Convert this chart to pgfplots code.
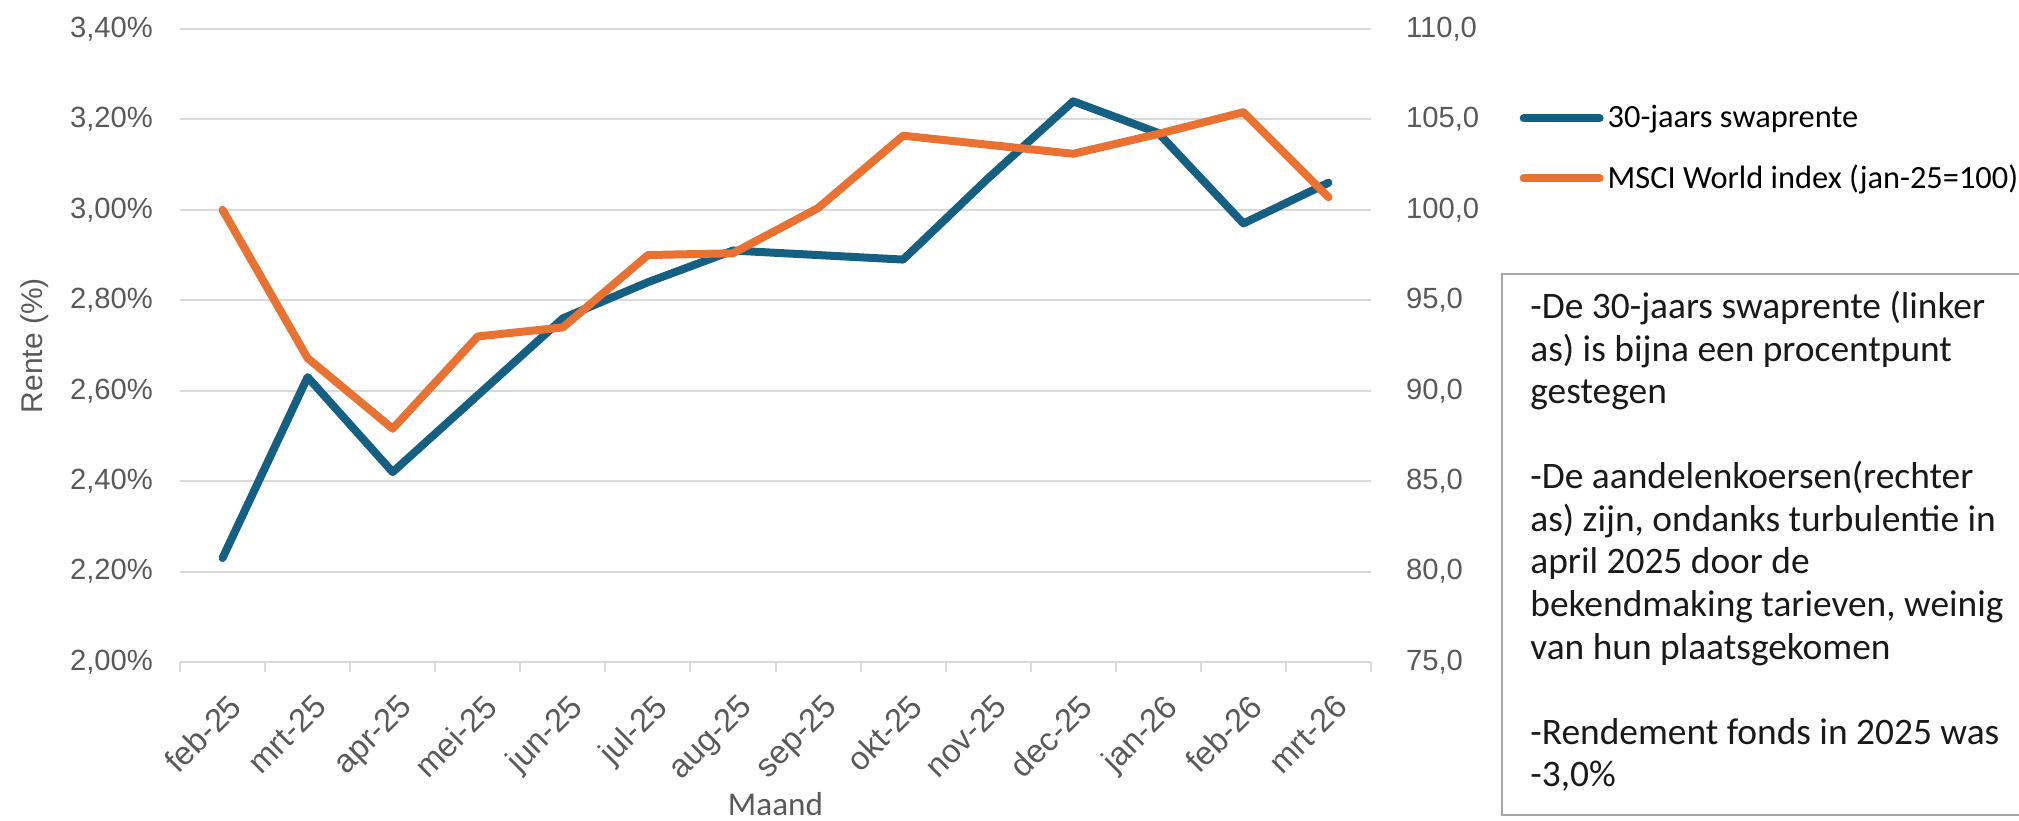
\documentclass[border=0pt]{standalone}
\usepackage{fontspec}
\setmainfont{Carlito}
\newfontfamily\arialf{Liberation Sans}
\usepackage{pgfplots}
\pgfplotsset{compat=1.18}
\definecolor{swapblue}{HTML}{156082}
\definecolor{msciorange}{HTML}{E97132}
\definecolor{gridgray}{HTML}{D9D9D9}
\definecolor{labgray}{HTML}{595959}
\definecolor{boxgray}{HTML}{A6A6A6}
\newcommand{\tickfont}{\arialf\fontsize{14.6}{16}\selectfont}
\newcommand{\xtickfont}{\arialf\fontsize{16.3}{18}\selectfont}
\newcommand{\boxfont}{\fontsize{18.7}{21.25}\selectfont}
\begin{document}
\begin{tikzpicture}
\useasboundingbox (0,0) rectangle (1009.5pt,410pt);
\begin{axis}[
  at={(90pt,79pt)}, anchor=south west,
  width=595.5pt, height=316.5pt, scale only axis,
  xmin=0.5, xmax=14.5, ymin=2.0, ymax=3.4,
  xtick={1,...,14},
  xticklabels={feb-25,mrt-25,apr-25,mei-25,jun-25,jul-25,aug-25,sep-25,okt-25,nov-25,dec-25,jan-26,feb-26,mrt-26},
  minor xtick={0.5,1.5,...,14.5},
  major tick length=0pt, minor tick length=5pt,
  tick align=outside,
  axis x line*=bottom, axis y line*=left,
  x axis line style={draw=gridgray, line width=1pt, -},
  y axis line style={draw=none},
  minor tick style={draw=gridgray, line width=1pt},
  ytick={2.0,2.2,2.4,2.6,2.8,3.0,3.2,3.4},
  yticklabels={{2,00\%},{2,20\%},{2,40\%},{2,60\%},{2,80\%},{3,00\%},{3,20\%},{3,40\%}},
  ymajorgrids, grid style={draw=gridgray, line width=1pt},
  major tick style={draw=none},
  tick label style={font=\tickfont, text=labgray},
  yticklabel style={xshift=-10pt},
  xticklabel style={font=\xtickfont, inner sep=0pt, xshift=2.25pt, yshift=-15pt, rotate=45, anchor=north east},
  xlabel={Maand},
  xlabel style={at={(axis description cs:0.5,-0.224)}, anchor=center, inner sep=0pt, font=\fontsize{16.6}{18}\selectfont, text=labgray},
  ylabel={Rente (\%)},
  ylabel style={at={(axis description cs:-0.1217,0.5)}, anchor=center, font=\arialf\fontsize{15}{17}\selectfont, text=labgray},
  legend style={at={(axis description cs:1.1245,0.886)}, anchor=north west, draw=none, fill=none, inner sep=0pt, font=\fontsize{16.2}{19}\selectfont, row sep=13pt, cells={anchor=west}},
  legend image code/.code={\draw[#1, line width=4pt, line cap=round] (0pt,0pt) -- (38pt,0pt);},
]
\addplot[swapblue, line width=4pt, line join=round, line cap=round] coordinates {
(1,2.23) (2,2.63) (3,2.42) (4,2.59) (5,2.76) (6,2.84) (7,2.91) (8,2.90) (9,2.89) (10,3.07) (11,3.24) (12,3.17) (13,2.97) (14,3.06)};
\addlegendentry{30-jaars swaprente}
\addlegendimage{msciorange, line width=4pt}
\addlegendentry{MSCI World index (jan-25=100)}
\end{axis}
\begin{axis}[
  at={(90pt,79pt)}, anchor=south west,
  width=595.5pt, height=316.5pt, scale only axis,
  xmin=0.5, xmax=14.5, ymin=75, ymax=110,
  axis x line=none, axis y line*=right,
  y axis line style={draw=none},
  ytick={75,80,85,90,95,100,105,110},
  yticklabels={{75,0},{80,0},{85,0},{90,0},{95,0},{100,0},{105,0},{110,0}},
  major tick length=0pt, major tick style={draw=none},
  tick label style={font=\tickfont, text=labgray},
  yticklabel style={xshift=14pt},
]
\addplot[msciorange, line width=4pt, line join=round, line cap=round] coordinates {
(1,100.0) (2,91.8) (3,87.9) (4,93.0) (5,93.5) (6,97.5) (7,97.6) (8,100.1) (9,104.1) (10,103.6) (11,103.1) (12,104.2) (13,105.4) (14,100.7)};
\end{axis}
\draw[boxgray, line width=1.25pt] (751pt,2.5pt) rectangle (1015pt,273pt);
\begin{scope}[every node/.style={anchor=base west, inner sep=0pt, font=\boxfont, text=black!90}]
\node at (765pt,250.5pt) {-De 30-jaars swaprente (linker};
\node at (765pt,229.25pt) {as) is bijna een procentpunt};
\node at (765pt,208pt) {gestegen};
\node at (765pt,165.5pt) {-De aandelenkoersen(rechter};
\node at (765pt,144.25pt) {as) zijn, ondanks turbulentie in};
\node at (765pt,123pt) {april 2025 door de};
\node at (765pt,101.75pt) {bekendmaking tarieven, weinig};
\node at (765pt,80.5pt) {van hun plaatsgekomen};
\node at (765pt,38pt) {-Rendement fonds in 2025 was};
\node at (765pt,16.75pt) {-3,0\%};
\end{scope}
\end{tikzpicture}
\end{document}
